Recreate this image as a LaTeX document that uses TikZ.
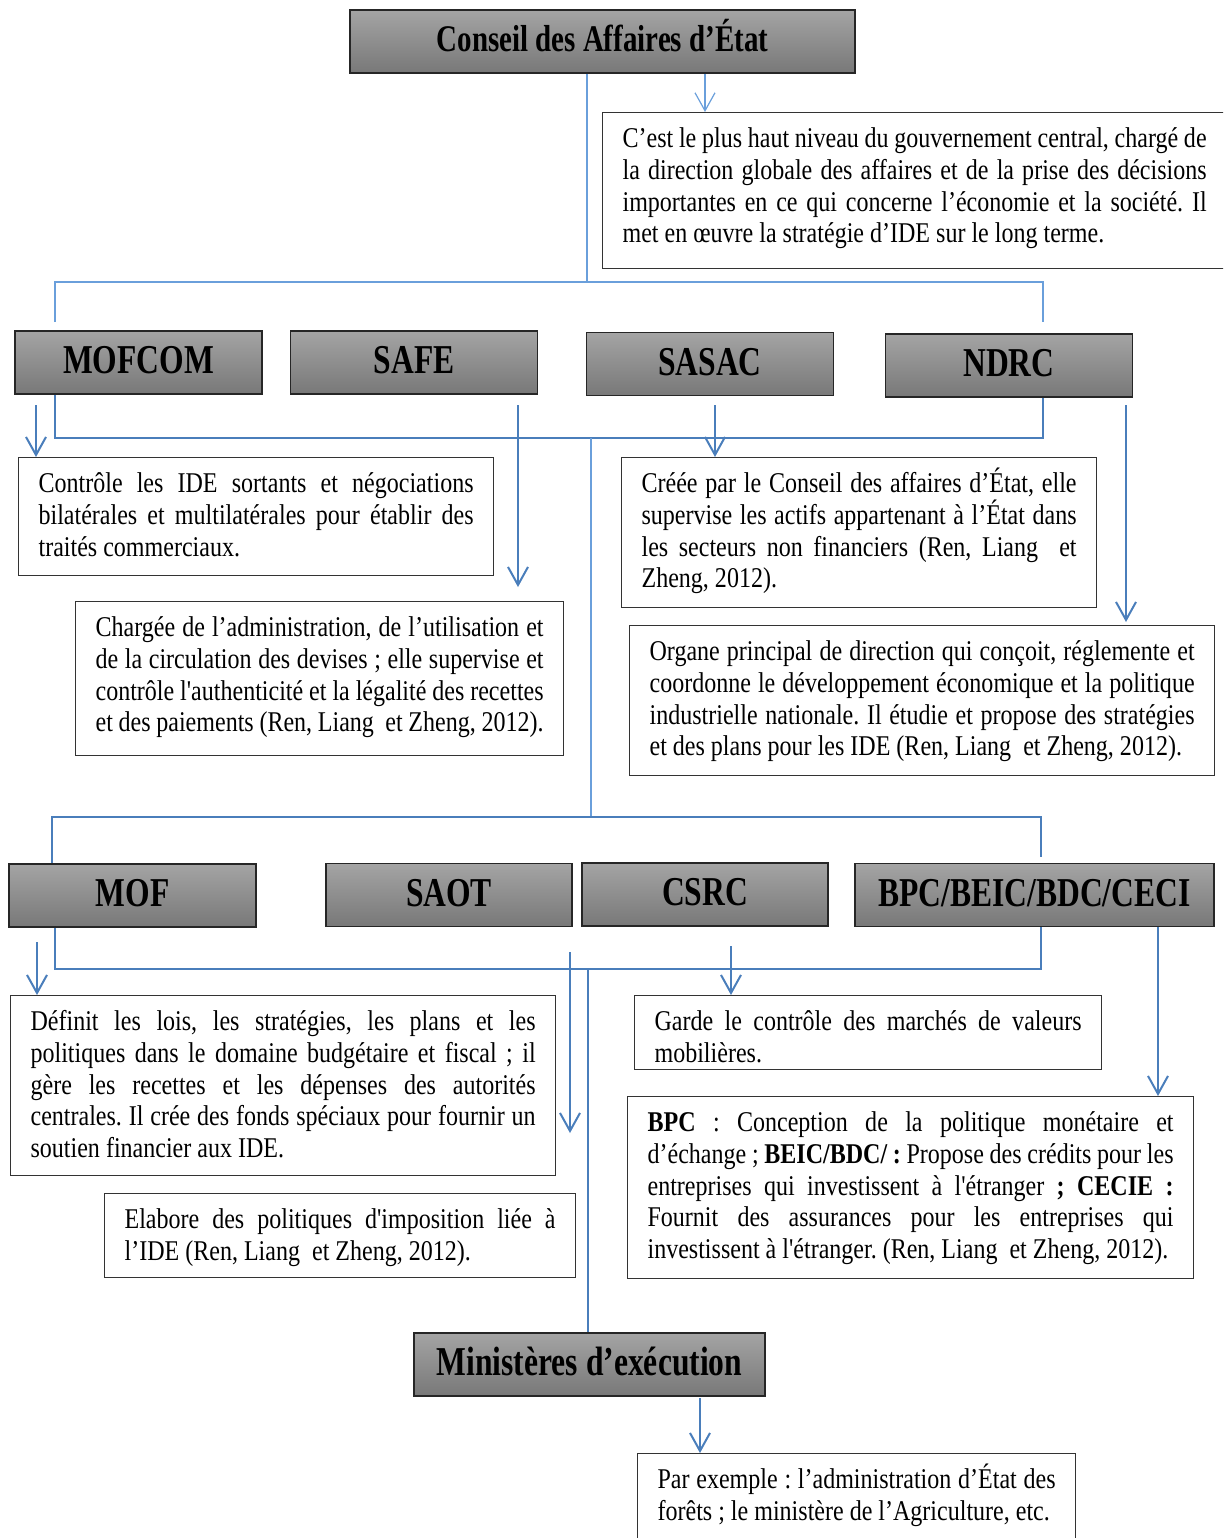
\documentclass[tikz,border=0pt]{standalone}
\usepackage{fontspec}
\setmainfont{Liberation Serif}[Ligatures=TeXOff, FakeStretch=0.84]
\newfontfamily\titlefont{Liberation Serif}[Ligatures=TeXOff, FakeStretch=0.77]
\usetikzlibrary{arrows.meta}
\frenchspacing
\definecolor{lblue}{HTML}{6A9FDB}
\definecolor{mblue}{HTML}{4A7EBB}
\definecolor{ttop}{HTML}{A4A4A4}
\definecolor{tbot}{HTML}{787878}
\newcommand{\jl}[1]{\makebox[\linewidth][s]{#1}\par}
\newcommand{\fl}{\rule{0pt}{17.5pt}}
\newcommand{\dtext}[3]{\parbox[t][#1][t]{#2}{\fl #3}}
\tikzset{
  tbox/.style={draw=black!85, line width=0.9pt, top color=ttop, bottom color=tbot,
    inner sep=0pt, minimum height=31.5pt, minimum width=123.5pt,
    text height=13.6pt, text depth=2.5pt,
    font=\titlefont\bfseries\fontsize{20.5}{22}\selectfont},
  dbox/.style={draw=black!80, line width=0.6pt, anchor=north west, inner xsep=10pt,
    inner ysep=0pt, fill=white, font=\fontsize{14.3}{15.85}\selectfont},
  lb/.style={lblue, line width=1pt},
  mb/.style={mblue, line width=1pt},
  arr/.style={mblue, line width=1pt, -{Straight Barb[length=9pt,width=10pt]}},
  larr/.style={lblue, line width=0.6pt, -{Straight Barb[length=9pt,width=10pt]}}
}
\begin{document}
\begin{tikzpicture}[x=0.5pt, y=-0.5pt]
\useasboundingbox (0,0) rectangle (1223,1538);
\clip (0,0) rectangle (1223,1538);

% ---- title boxes
\node[tbox, minimum width=252.5pt, text height=12.4pt, text depth=2.5pt, font=\titlefont\bfseries\fontsize{18.8}{20}\selectfont] (conseil) at (602.5,41.5) {Conseil des Affaires d’État};
\node[tbox] (mofcom) at (138.5,362.5) {MOFCOM};
\node[tbox] (safe) at (414,362.5) {SAFE};
\node[tbox] (sasac) at (710,364) {SASAC};
\node[tbox] (ndrc) at (1009,365.5) {NDRC};
\node[tbox] (mof) at (132.5,895.5) {MOF};
\node[tbox, minimum width=123pt] (saot) at (449,895) {SAOT};
\node[tbox, minimum width=123pt] (csrc) at (705,894.5) {CSRC};
\node[tbox, minimum width=179.5pt] (bpc) at (1034.5,895) {BPC/BEIC/BDC/CECI};
\node[tbox, minimum width=175.5pt] (mini) at (589.5,1364.5) {Ministères d’exécution};

% ---- description boxes
\node[dbox] (dconseil) at (602,112) {\dtext{78pt}{292pt}{%
\jl{C’est le plus haut niveau du gouvernement central, chargé de}%
\jl{la direction globale des affaires et de la prise des décisions}%
\jl{importantes en ce qui concerne l’économie et la société. Il}%
met en œuvre la stratégie d’IDE sur le long terme.}};

\node[dbox] (dmofcom) at (18,457) {\dtext{59pt}{217.5pt}{%
\jl{Contrôle les IDE sortants et négociations}%
\jl{bilatérales et multilatérales pour établir des}%
traités commerciaux.}};

\node[dbox] (dsafe) at (75,601) {\dtext{77pt}{224pt}{%
\jl{Chargée de l’administration, de l’utilisation et}%
\jl{de la circulation des devises ; elle supervise et}%
\jl{contrôle l'authenticité et la légalité des recettes}%
et des paiements (Ren, Liang\ \ et Zheng, 2012).}};

\node[dbox] (dsasac) at (621,457) {\dtext{75pt}{217.5pt}{%
\jl{Créée par le Conseil des affaires d’État, elle}%
\jl{supervise les actifs appartenant à l’État dans}%
\jl{les secteurs non financiers (Ren, Liang\ \ et}%
Zheng, 2012).}};

\node[dbox] (dndrc) at (629,625) {\dtext{75pt}{272.5pt}{%
\jl{Organe principal de direction qui conçoit, réglemente et}%
\jl{coordonne le développement économique et la politique}%
\jl{industrielle nationale. Il étudie et propose des stratégies}%
et des plans pour les IDE (Ren, Liang\ \ et Zheng, 2012).}};

\node[dbox] (dmof) at (10,995) {\dtext{90pt}{252.5pt}{%
\jl{Définit les lois, les stratégies, les plans et les}%
\jl{politiques dans le domaine budgétaire et fiscal ; il}%
\jl{gère les recettes et les dépenses des autorités}%
\jl{centrales. Il crée des fonds spéciaux pour fournir un}%
soutien financier aux IDE.}};

\node[dbox] (dsaot) at (104,1193) {\dtext{42pt}{215.5pt}{%
\jl{Elabore des politiques d'imposition liée à}%
l’IDE (Ren, Liang\ \ et Zheng, 2012).}};

\node[dbox] (dcsrc) at (634,995) {\dtext{37pt}{213.5pt}{%
\jl{Garde le contrôle des marchés de valeurs}%
mobilières.}};

\node[dbox] (dbpc) at (627,1096) {\dtext{91pt}{263pt}{%
\jl{\textbf{BPC} : Conception de la politique monétaire et}%
\jl{d’échange ; \textbf{BEIC/BDC/ :} Propose des crédits pour les}%
\jl{entreprises qui investissent à l'étranger \textbf{; CECIE :}}%
\jl{Fournit des assurances pour les entreprises qui}%
investissent à l'étranger. (Ren, Liang\ \ et Zheng, 2012).}};

\node[dbox] (dmini) at (637,1453) {\dtext{48pt}{199pt}{%
\jl{Par exemple : l’administration d’État des}%
forêts ; le ministère de l’Agriculture, etc.}};

% ---- bus connectors
\coordinate (b1l) at (55,282);
\coordinate (b1c) at (587,282);
\coordinate (b1r) at (1043,282);
\draw[lb] (conseil.south -| b1c) -- (b1c);
\draw[lb] ([yshift=4pt]mofcom.north -| b1l) -- (b1l) -- (b1r) -- ([yshift=5.5pt]ndrc.north -| b1r);

\coordinate (b2l) at (55,438);
\coordinate (b2c) at (591,438);
\coordinate (b2r) at (1043,438);
\draw[mb] (mofcom.south -| b2l) -- (b2l) -- (b2r) -- (ndrc.south -| b2r);

\coordinate (b3l) at (52,817);
\coordinate (b3c) at (591,817);
\coordinate (b3r) at (1041,817);
\draw[lb] (b2c) -- (b3c);
\draw[mb] (mof.north -| b3l) -- (b3l) -- (b3r) -- ([yshift=3pt]bpc.north -| b3r);

\coordinate (b4l) at (55,969);
\coordinate (b4c) at (588,969);
\coordinate (b4r) at (1041,969);
\draw[mb] (mof.south -| b4l) -- (b4l) -- (b4r) -- (bpc.south -| b4r);
\draw[mb] (b4c) -- (mini.north -| b4c);

% ---- arrows
\coordinate (a0) at (705,73);
\draw[larr] (conseil.south -| a0) -- (dconseil.north -| a0);
\coordinate (a1) at (36,405);
\draw[arr] (a1) -- (dmofcom.north -| a1);
\coordinate (a2) at (518,405);
\draw[arr] (a2) -- (518,587) coordinate (a2e);
\coordinate (a3) at (715,405);
\draw[arr] (a3) -- (dsasac.north -| a3);
\coordinate (a4) at (1126,405);
\draw[arr] (a4) -- ([yshift=1.5pt]dndrc.north -| a4);
\coordinate (a5) at (37,942);
\draw[arr] (a5) -- (dmof.north -| a5);
\coordinate (a6) at (570,952);
\coordinate (a6e) at (570,1133);
\draw[arr] (a6) -- (a6e);
\coordinate (a7) at (731,946);
\draw[arr] (a7) -- (dcsrc.north -| a7);
\coordinate (a8) at (1158,928);
\draw[arr] (bpc.south -| a8) -- (dbpc.north -| a8);
\coordinate (a9) at (700,1398);
\draw[arr] (a9) -- (dmini.north -| a9);
\end{tikzpicture}
\end{document}
